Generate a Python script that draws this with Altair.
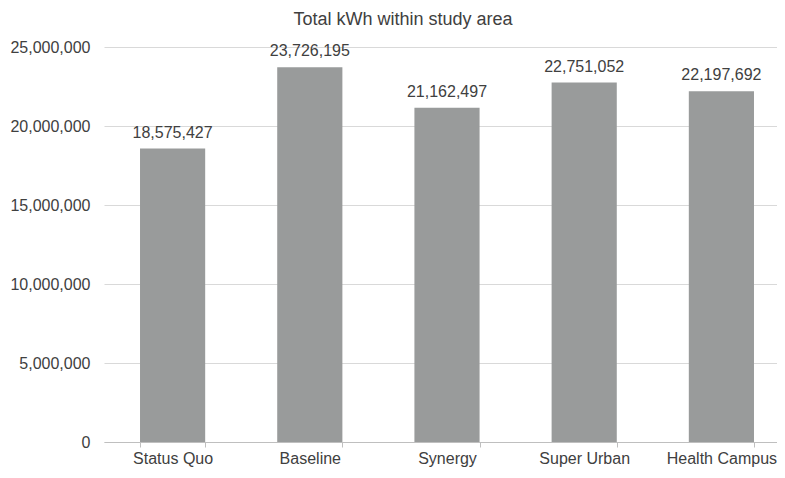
import altair as alt
import pandas as pd

categories = ["Status Quo", "Baseline", "Synergy", "Super Urban", "Health Campus"]
values = [18575427, 23726195, 21162497, 22751052, 22197692]
y_ticks = [0, 5000000, 10000000, 15000000, 20000000, 25000000]

df = pd.DataFrame({"scenario": categories, "kwh": values})

FONT = "Liberation Sans"
TXT = "#404040"

base = alt.Chart(df).encode(
    x=alt.X(
        "scenario:N",
        sort=categories,
        scale=alt.Scale(paddingInner=0.525, paddingOuter=0.2625),
        axis=alt.Axis(
            title=None, labelAngle=0, labelFontSize=16, labelColor=TXT, labelFont=FONT,
            domainColor="#bfbfbf", tickColor="#bfbfbf", tickSize=5, tickBand="extent",
            labelPadding=3, grid=False,
        ),
    ),
    y=alt.Y(
        "kwh:Q",
        scale=alt.Scale(domain=[0, 25000000]),
        axis=alt.Axis(
            title=None, values=y_ticks, format=",d", labelFontSize=16, labelColor=TXT,
            labelFont=FONT, domain=False, ticks=False, gridColor="#d9d9d9",
            labelPadding=14, minExtent=96, maxExtent=96,
        ),
    ),
)

bars = base.mark_bar(color="#999b9b")
text = base.mark_text(
    dy=-11, baseline="alphabetic", fontSize=16, font=FONT, color=TXT
).encode(text=alt.Text("kwh:Q", format=",d"))

chart = (
    (bars + text)
    .properties(
        width=686,
        height=395,
        padding={"left": 0, "top": 3, "right": -13, "bottom": 4},
        title=alt.TitleParams(
            "Total kWh within study area", anchor="middle", frame="bounds",
            fontSize=18, fontWeight="normal", font=FONT, color=TXT, offset=10, dx=4,
        ),
    )
    .configure_view(stroke=None)
)

chart.save("out.html", embed_options={"renderer": "svg", "actions": False})
